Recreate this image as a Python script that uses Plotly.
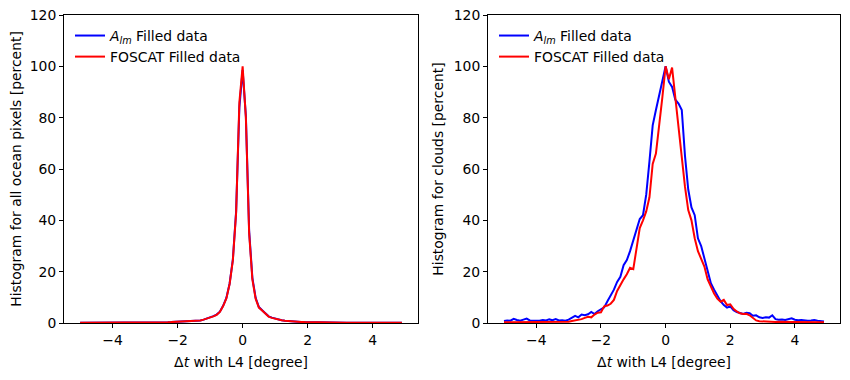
import plotly.graph_objects as go

# bin positions (degree)
dt = [round(-5 + 0.1 * i, 1) for i in range(100)]

# Left panel: all ocean pixels (x = -5.0 ... 4.9)
left_neg = [0.05, 0.05, 0.05, 0.05, 0.05, 0.05, 0.06, 0.06, 0.06, 0.06,
            0.07, 0.07, 0.08, 0.08, 0.09, 0.09, 0.1, 0.11, 0.12, 0.13,
            0.14, 0.15, 0.17, 0.19, 0.21, 0.24, 0.27, 0.31, 0.35, 0.4,
            0.45, 0.5, 0.55, 0.62, 0.7, 0.8, 0.9, 1.0, 1.3, 1.7]
left_pos = [1.3, 1.1, 0.9, 0.75, 0.62, 0.52, 0.45, 0.4, 0.35, 0.31,
            0.28, 0.25, 0.23, 0.21, 0.19, 0.17, 0.15, 0.14, 0.13, 0.12,
            0.11, 0.1, 0.1, 0.09, 0.09, 0.08, 0.08, 0.07, 0.07, 0.07,
            0.06, 0.06, 0.06, 0.05, 0.05, 0.05, 0.05, 0.05, 0.05]
alm_all = left_neg + [2.2, 2.7, 3.3, 4.4, 6.7, 9.8, 15.4, 24.8, 43.5, 84.0,
                      98.5, 80.5, 36.0, 17.6, 9.8, 6.2, 5.0, 3.6, 2.6, 2.1, 1.7] + left_pos
foscat_all = left_neg + [2.1, 2.6, 3.2, 4.3, 6.6, 9.6, 15.2, 24.5, 43.0, 86.0,
                         100.0, 80.0, 35.0, 17.0, 9.5, 6.0, 4.9, 3.5, 2.5, 2.0, 1.6] + left_pos

# Right panel: clouds
alm_cloud = [0.8, 1.0, 0.9, 1.6, 1.2, 0.9, 1.3, 1.7, 1.0, 1.0,
             1.1, 0.9, 1.2, 1.0, 1.4, 1.1, 1.5, 1.0, 1.1, 0.9,
             1.3, 2.0, 2.8, 2.2, 3.3, 3.0, 3.4, 4.3, 3.5, 4.6,
             5.3, 6.1, 8.5, 10.5, 13.0, 16.0, 18.0, 22.5, 24.5, 28.0,
             32.0, 36.5, 40.5, 42.0, 50.0, 63.0, 77.0, 83.0, 89.0, 95.0,
             100.0, 94.0, 92.0, 87.0, 85.5, 83.0, 65.0, 52.0, 45.0, 42.0,
             33.0, 30.0, 25.5, 20.0, 15.5, 13.0, 10.5, 8.5, 7.0, 6.0,
             6.5, 5.0, 4.3, 4.0, 3.5, 4.0, 3.8, 2.8, 3.0, 2.2,
             2.0, 2.2, 2.1, 3.0, 1.5, 1.3, 1.4, 1.2, 1.6, 1.8,
             1.3, 1.1, 1.2, 1.0, 0.9, 1.0, 1.2, 0.9, 0.8, 0.6]
foscat_cloud = [0.3, 0.3, 0.4, 0.3, 0.3, 0.4, 0.3, 0.3, 0.4, 0.3,
                0.3, 0.4, 0.3, 0.3, 0.4, 0.4, 0.3, 0.4, 0.4, 0.5,
                0.5, 0.8, 1.0, 1.3, 1.5, 2.0, 2.4, 2.2, 3.3, 4.0,
                4.2, 6.5, 6.8, 7.5, 9.0, 12.5, 15.0, 17.0, 19.0, 21.5,
                21.0, 29.0, 37.0, 40.0, 43.5, 49.0, 62.0, 66.0, 76.0, 88.0,
                100.0, 95.0, 99.5, 88.0, 76.0, 63.0, 53.0, 44.0, 40.0, 33.0,
                28.0, 25.0, 22.0, 17.0, 14.0, 11.5, 9.5, 8.3, 9.0, 7.0,
                7.3, 5.5, 4.5, 3.8, 3.5, 3.6, 3.0, 1.8, 1.0, 0.7,
                0.6, 0.5, 0.5, 0.5, 0.4, 0.5, 0.4, 0.4, 0.5, 0.4,
                0.4, 0.4, 0.3, 0.4, 0.4, 0.3, 0.4, 0.3, 0.3, 0.3]

x_ticks = [-4, -2, 0, 2, 4]
y_ticks = [0, 20, 40, 60, 80, 100, 120]

ALM_NAME = "<i>A</i><sub><i>lm</i></sub> Filled data"
FOS_NAME = "FOSCAT Filled data"
BLUE = "#0000ff"
RED = "#ff0000"
FS = 13.9

fig = go.Figure()
fig.add_trace(go.Scatter(x=dt, y=alm_all, mode="lines", name=ALM_NAME,
                         line=dict(color=BLUE, width=2), xaxis="x", yaxis="y", legend="legend"))
fig.add_trace(go.Scatter(x=dt, y=foscat_all, mode="lines", name=FOS_NAME,
                         line=dict(color=RED, width=2), xaxis="x", yaxis="y", legend="legend"))
fig.add_trace(go.Scatter(x=dt, y=alm_cloud, mode="lines", name=ALM_NAME,
                         line=dict(color=BLUE, width=2), xaxis="x2", yaxis="y2", legend="legend2"))
fig.add_trace(go.Scatter(x=dt, y=foscat_cloud, mode="lines", name=FOS_NAME,
                         line=dict(color=RED, width=2), xaxis="x2", yaxis="y2", legend="legend2"))

W, H = 850, 380
OFF = 8  # page body margin offset
ydom = [(H - (323 - OFF)) / H, (H - (15 - OFF)) / H]

axis_common = dict(showline=True, linecolor="black", linewidth=1, mirror=True,
                   ticks="outside", ticklen=4, tickcolor="black", showgrid=False,
                   zeroline=False, automargin=False, ticklabeloverflow="allow",
                   tickfont=dict(size=FS, color="black"))
title_font = dict(size=FS, color="black")

fig.update_layout(
    width=W, height=H,
    margin=dict(l=0, r=0, t=0, b=0),
    paper_bgcolor="white", plot_bgcolor="white",
    font=dict(family="DejaVu Sans", size=FS, color="black"),
    xaxis=dict(domain=[(64 - OFF) / W, (418 - OFF) / W], range=[-5.495, 5.395], tickvals=x_ticks,
               title=dict(text="Δ<i>t</i> with L4 [degree]", standoff=10, font=title_font),
               anchor="y", **axis_common),
    yaxis=dict(domain=ydom, range=[0, 120], tickvals=y_ticks,
               title=dict(text="Histogram for all ocean pixels [percent]", standoff=6, font=title_font),
               anchor="x", **axis_common),
    xaxis2=dict(domain=[(488 - OFF) / W, (840 - OFF) / W], range=[-5.495, 5.395], tickvals=x_ticks,
                title=dict(text="Δ<i>t</i> with L4 [degree]", standoff=10, font=title_font),
                anchor="y2", **axis_common),
    yaxis2=dict(domain=ydom, range=[0, 120], tickvals=y_ticks,
                title=dict(text="Histogram for clouds [percent]", standoff=6, font=title_font),
                anchor="x2", **axis_common),
    legend=dict(x=62 / W, y=(H - 12) / H, xanchor="left", yanchor="top",
                bgcolor="rgba(0,0,0,0)", font=dict(size=FS), tracegroupgap=0),
    legend2=dict(x=486 / W, y=(H - 12) / H, xanchor="left", yanchor="top",
                 bgcolor="rgba(0,0,0,0)", font=dict(size=FS), tracegroupgap=0),
    showlegend=True,
)

fig.write_html("out.html")
